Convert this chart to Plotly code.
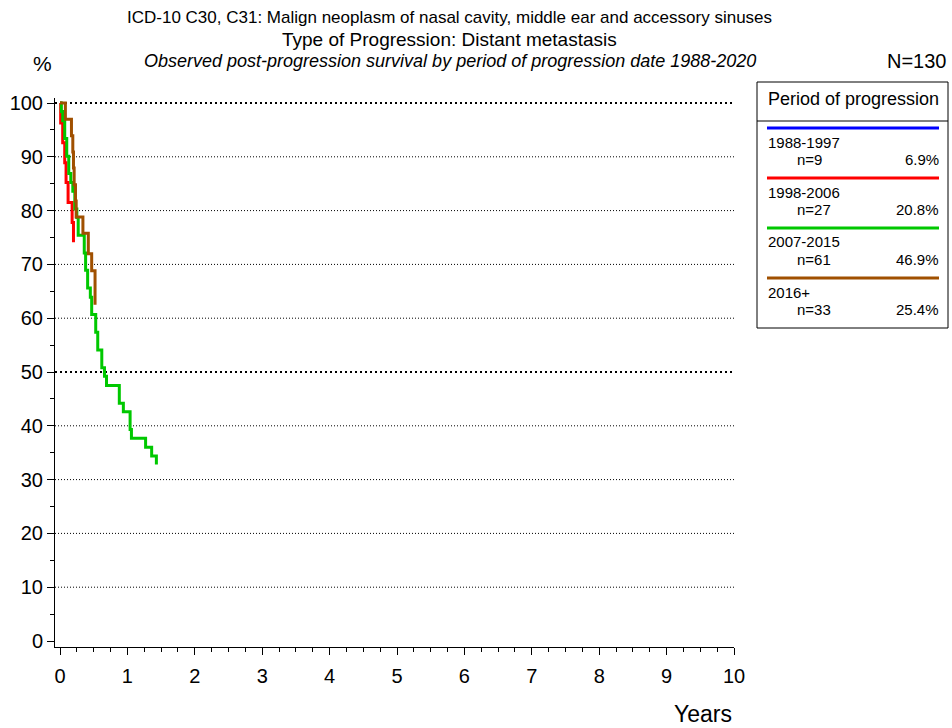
import plotly.graph_objects as go

# ---------------- data ----------------
periods = ["1988-1997", "1998-2006", "2007-2015", "2016+"]
counts = ["n=9", "n=27", "n=61", "n=33"]
shares = ["6.9%", "20.8%", "46.9%", "25.4%"]
colors = ["#0000ff", "#ff0000", "#00c800", "#a05000"]

t_1988 = []
s_1988 = []

t_1998 = [0.0, 0.01, 0.04, 0.07, 0.09, 0.12, 0.18, 0.20]
s_1998 = [100.0, 96.3, 92.6, 88.9, 85.2, 81.5, 77.8, 74.1]

t_2007 = [0.0, 0.02, 0.04, 0.07, 0.10, 0.13, 0.16, 0.19, 0.22, 0.25, 0.27, 0.36, 0.38,
          0.41, 0.45, 0.47, 0.53, 0.56, 0.62, 0.66, 0.69, 0.88, 0.94, 1.04, 1.06, 1.27,
          1.36, 1.43]
s_2007 = [100.0, 98.4, 96.7, 93.4, 90.1, 86.9, 85.2, 83.6, 80.3, 78.7, 75.4, 72.1, 68.9,
          65.6, 63.9, 60.7, 57.4, 54.1, 50.8, 49.2, 47.5, 44.2, 42.6, 39.3, 37.7, 36.0,
          34.4, 32.8]

t_2016 = [0.0, 0.08, 0.17, 0.19, 0.20, 0.21, 0.23, 0.24, 0.34, 0.42, 0.47, 0.52, 0.52]
s_2016 = [100.0, 97.0, 93.9, 90.9, 87.9, 84.8, 81.8, 78.8, 75.8, 72.0, 68.8, 65.6, 62.5]

series_t = [t_1988, t_1998, t_2007, t_2016]
series_s = [s_1988, s_1998, s_2007, s_2016]

x_ticks = list(range(0, 11))
y_ticks = list(range(0, 101, 10))
grid_levels = list(range(10, 101, 10))
bold_levels = [50, 100]

title1 = "ICD-10 C30, C31: Malign neoplasm of nasal cavity, middle ear and accessory sinuses"
title2 = "Type of Progression: Distant metastasis"
title3 = "Observed post-progression survival by period of progression date 1988-2020"
n_total = "N=130"

# ---------------- layout geometry (page pixels) ----------------
W, H = 952, 728
L, R, T, B = 55, 734, 98, 647
FONT = "Liberation Sans, Arial, sans-serif"


def px(x):
    return (x - L) / (R - L)


def py(y):
    return (B - y) / (B - T)


fig = go.Figure()

for i in range(4):
    fig.add_trace(go.Scatter(
        x=series_t[i], y=series_s[i], mode="lines",
        line=dict(color=colors[i], width=3, shape="hv"),
        showlegend=False, hoverinfo="skip"))

shapes = []
for g in grid_levels:
    bold = g in bold_levels
    shapes.append(dict(type="line", xref="paper", yref="y", x0=0, x1=1, y0=g, y1=g,
                       line=dict(color="black", width=2 if bold else 1,
                                 dash="2px,3px" if bold else "1px,2px"),
                       layer="below"))

# legend box
lx0, lx1, ly0, ly1 = 757, 948, 82, 328
shapes.append(dict(type="rect", xref="paper", yref="paper", x0=px(lx0), x1=px(lx1),
                   y0=py(ly0), y1=py(ly1), line=dict(color="black", width=1)))
shapes.append(dict(type="line", xref="paper", yref="paper", x0=px(lx0), x1=px(lx1),
                   y0=py(121), y1=py(121), line=dict(color="black", width=1)))

annotations = []
annotations.append(dict(xref="paper", yref="paper", x=px(853), y=py(99),
                        text="Period of progression", showarrow=False,
                        font=dict(size=18, color="black", family=FONT),
                        xanchor="center", yanchor="middle"))
for i in range(4):
    yl = 128 + 50 * i
    shapes.append(dict(type="line", xref="paper", yref="paper", x0=px(767), x1=px(939),
                       y0=py(yl), y1=py(yl), line=dict(color=colors[i], width=3)))
    annotations.append(dict(xref="paper", yref="paper", x=px(766), y=py(yl + 14),
                            text=periods[i], showarrow=False,
                            font=dict(size=15, color="black", family=FONT),
                            xanchor="left", yanchor="middle"))
    annotations.append(dict(xref="paper", yref="paper", x=px(795), y=py(yl + 31),
                            text=counts[i], showarrow=False,
                            font=dict(size=15, color="black", family=FONT),
                            xanchor="left", yanchor="middle"))
    annotations.append(dict(xref="paper", yref="paper", x=px(941), y=py(yl + 31),
                            text=shares[i], showarrow=False,
                            font=dict(size=15, color="black", family=FONT),
                            xanchor="right", yanchor="middle"))

annotations += [
    dict(xref="paper", yref="paper", x=px(449), y=py(18), text=title1, showarrow=False,
         font=dict(size=17, color="black", family=FONT), xanchor="center", yanchor="middle"),
    dict(xref="paper", yref="paper", x=px(449), y=py(40), text=title2, showarrow=False,
         font=dict(size=19, color="black", family=FONT), xanchor="center", yanchor="middle"),
    dict(xref="paper", yref="paper", x=px(450), y=py(61), text="<i>" + title3 + "</i>",
         showarrow=False, font=dict(size=18, color="black", family=FONT),
         xanchor="center", yanchor="middle"),
    dict(xref="paper", yref="paper", x=px(42), y=py(63), text="%", showarrow=False,
         font=dict(size=21, color="black", family=FONT), xanchor="center", yanchor="middle"),
    dict(xref="paper", yref="paper", x=px(949), y=py(61), text=n_total, showarrow=False,
         font=dict(size=20, color="black", family=FONT), xanchor="right", yanchor="middle"),
    dict(xref="paper", yref="paper", x=px(734), y=py(714), text="Years", showarrow=False,
         font=dict(size=23, color="black", family=FONT), xanchor="right", yanchor="middle"),
]

x_lo = -(60 - L) / 67.4
y_lo = -(B - 641) / 5.38
y_hi = y_lo + (B - T) / 5.38

fig.update_layout(
    width=W, height=H,
    margin=dict(l=L, r=W - R, t=T, b=H - B, pad=0, autoexpand=False),
    paper_bgcolor="white", plot_bgcolor="white",
    font=dict(family=FONT, size=20, color="black"),
    shapes=shapes, annotations=annotations, showlegend=False,
    xaxis=dict(range=[x_lo, 10], tickvals=x_ticks, ticktext=[str(v) for v in x_ticks],
               automargin=False,
               showgrid=False, zeroline=False, showline=True, linecolor="black", linewidth=1,
               ticks="outside", ticklen=7, tickwidth=1, tickcolor="black",
               tickfont=dict(size=20, family=FONT), ticklabelstandoff=4,
               minor=dict(dtick=0.25, tick0=0, ticks="outside", ticklen=4, tickcolor="black",
                          showgrid=False)),
    yaxis=dict(range=[y_lo, y_hi], tickvals=y_ticks, ticktext=[str(v) for v in y_ticks],
               automargin=False,
               showgrid=False, zeroline=False, showline=True, linecolor="black", linewidth=1,
               ticks="outside", ticklen=7, tickwidth=1, tickcolor="black",
               tickfont=dict(size=20, family=FONT), ticklabelstandoff=0,
               minor=dict(dtick=5, tick0=0, ticks="outside", ticklen=4, tickcolor="black",
                          showgrid=False)),
)

fig.write_html("out.html", config={"displayModeBar": False},
               post_script="document.body.style.margin='0';")
